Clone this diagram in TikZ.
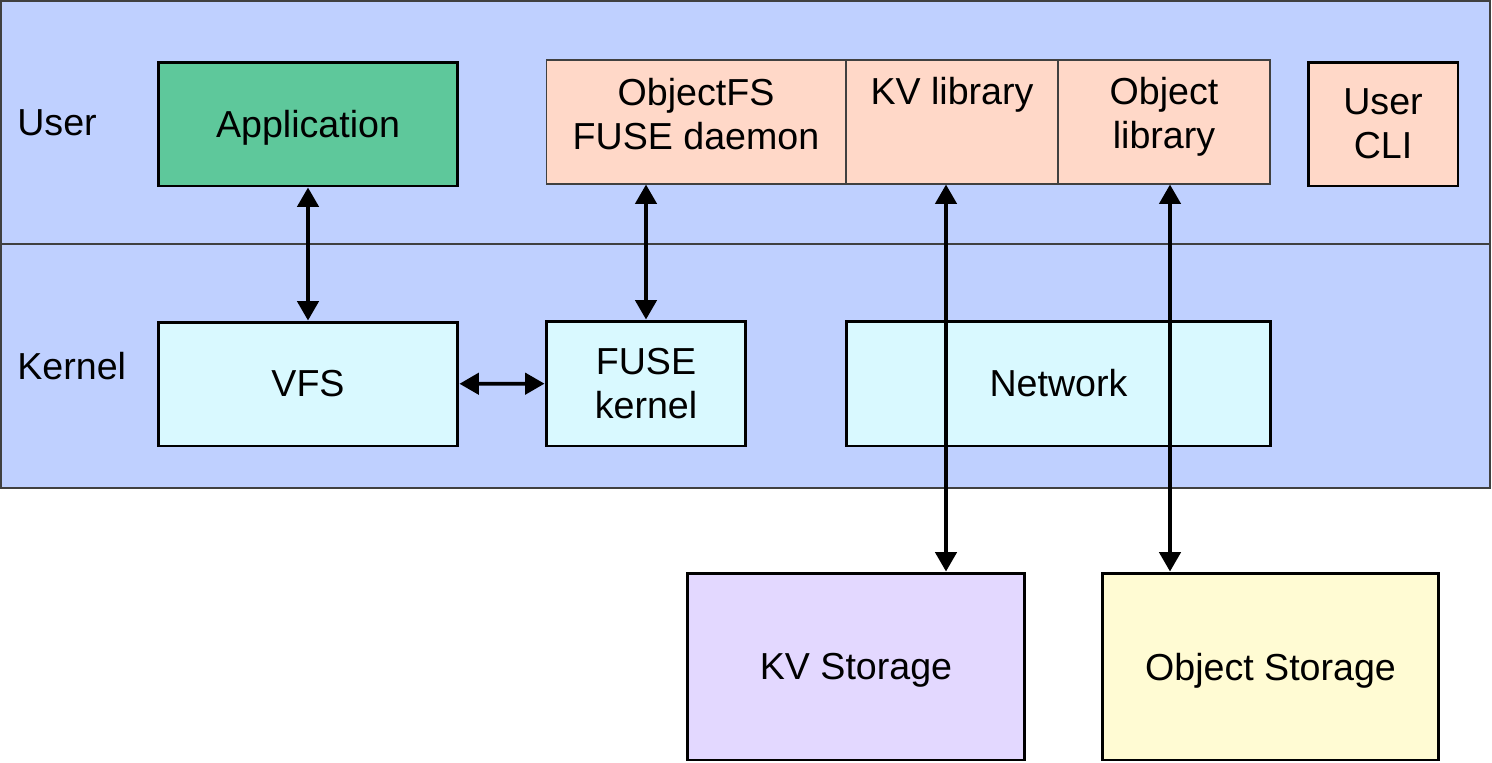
\documentclass[tikz,border=0pt]{standalone}
\usepackage{fontspec}
\setmainfont{Liberation Sans}
\usetikzlibrary{arrows.meta,positioning}

\definecolor{bandblue}{HTML}{BFD0FF}
\definecolor{appgreen}{HTML}{5EC89B}
\definecolor{userpink}{HTML}{FFD8C8}
\definecolor{kernelcyan}{HTML}{D9F9FF}
\definecolor{kvpurple}{HTML}{E3D8FF}
\definecolor{objyellow}{HTML}{FFFBD3}

\tikzset{
	band/.style={draw=black!75, fill=bandblue, line width=0.6pt},
	box/.style={draw=black, line width=1.7pt, align=center, inner sep=0pt},
	libbox/.style={draw=black!75, fill=userpink, line width=0.6pt, inner sep=0pt, minimum height=2.48cm},
	libtext/.style={align=center, inner sep=0pt},
	link/.style={{Triangle[length=11pt,width=12pt]}-{Triangle[length=11pt,width=12pt]}, line width=2.2pt},
}

\begin{document}
\begin{tikzpicture}[x=0.02cm, y=-0.02cm, font=\fontsize{21.4}{25}\selectfont]
	\useasboundingbox (0,0) rectangle (1492,762);
	% layers
	\filldraw[band] (1,1) rectangle (1490,244);
	\filldraw[band] (1,244) rectangle (1490,488);
	\node[anchor=west, inner sep=0pt] (userlbl) at (17,123) {User};
	\node[anchor=west, inner sep=0pt] (kernellbl) at (17,366) {Kernel};
	%%%%%
	\node[box, fill=appgreen, minimum width=6cm, minimum height=2.48cm, text depth=0pt] (app) at (308,124) {Application};
	\node[libbox, minimum width=6cm] (daemon) at (696,122) {};
	\node[libbox, minimum width=4.24cm] (kvlib) at (952,122) {};
	\node[libbox, minimum width=4.24cm] (objlib) at (1164,122) {};
	\node[libtext] (daemontxt) at (696,114) {ObjectFS\\FUSE daemon};
	\node[libtext] (kvlibtxt) at (952,95) {KV library};
	\node[libtext] (objlibtxt) at (1164,117) {Object\\library};
	\node[box, fill=userpink, minimum width=3cm, minimum height=2.48cm] (cli) at (1383,124) {User\\CLI};
	%%%%%
	\node[box, fill=kernelcyan, minimum width=6cm, minimum height=2.48cm] (vfs) at (308,384) {VFS};
	\node[box, fill=kernelcyan, minimum width=4cm, minimum height=2.5cm] (fusek) at (646,383.5) {FUSE\\kernel};
	\node[box, fill=kernelcyan, minimum width=8.5cm, minimum height=2.5cm] (net) at (1058.5,383.5) {Network};
	%%%%%
	\node[box, fill=kvpurple, minimum width=6.76cm, minimum height=3.74cm, text depth=0pt] (kvstore) at (856,666.5) {KV Storage};
	\node[box, fill=objyellow, minimum width=6.74cm, minimum height=3.74cm, text depth=0pt] (objstore) at (1270.5,666.5) {Object Storage};
	%%%%%
	\coordinate (kvx) at (946,0);
	\coordinate (objx) at (1170,0);
	\draw[link] (app) -- (vfs);
	\draw[link] (daemon.south -| fusek) -- (fusek);
	\draw[link] (vfs) -- (fusek);
	\draw[link] (kvx |- kvlib.south) -- (kvx |- kvstore.north);
	\draw[link] (objx |- objlib.south) -- (objx |- objstore.north);
\end{tikzpicture}
\end{document}
